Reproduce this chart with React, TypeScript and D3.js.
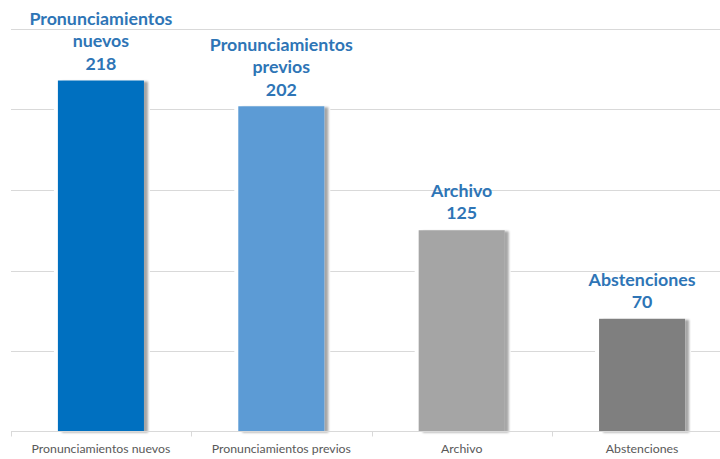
import React from "react";
import * as d3 from "d3";

const categories = ["Pronunciamientos nuevos", "Pronunciamientos previos", "Archivo", "Abstenciones"];
const values = [218, 202, 125, 70];
const labelLines = [["Pronunciamientos", "nuevos"], ["Pronunciamientos", "previos"], ["Archivo"], ["Abstenciones"]];
const colors = ["#0070C0", "#5B9BD5", "#A5A5A5", "#7F7F7F"];
const gridTicks = [50, 100, 150, 200, 250];

const W = 720, H = 459;
const left = 11, right = 732, top = 29, bottom = 431.5;

export default function App() {
  const x = d3.scaleBand<string>().domain(categories).range([left, right]).paddingInner(0.523).paddingOuter(0.26);
  const y = d3.scaleLinear().domain([0, 250]).range([bottom, top]);
  const step = x.step();
  const bounds = categories.map((c) => (x(c) as number) - (step * x.paddingInner()) / 2);
  return (
    <svg width={W} height={H} style={{ position: "absolute", left: 0, top: 0 }}>
      <defs>
        <filter id="sh" x="-20%" y="-10%" width="150%" height="130%">
          <feGaussianBlur in="SourceAlpha" stdDeviation="1.2" />
          <feOffset dx="4" dy="1" result="o" />
          <feComponentTransfer><feFuncA type="linear" slope="0.35" /></feComponentTransfer>
          <feMerge><feMergeNode /><feMergeNode in="SourceGraphic" /></feMerge>
        </filter>
      </defs>
      <rect width={W} height={H} fill="#fff" />
      {gridTicks.map((t) => (
        <line key={t} x1={left} x2={W} y1={Math.round(y(t)) + 0.5} y2={Math.round(y(t)) + 0.5} stroke="#D9D9D9" strokeWidth={1} />
      ))}
      {categories.map((c, i) => {
        const bx = x(c) as number;
        const bw = x.bandwidth();
        const by = y(values[i]);
        const cx = bx + bw / 2;
        const lines = [...labelLines[i], String(values[i])];
        const lh = 22.5;
        return (
          <g key={c}>
            <rect x={bx - 4} y={by - 3} width={bw + 10} height={bottom - by + 3} fill="#fff" />
            <rect x={bx} y={by} width={bw} height={bottom - by} fill={colors[i]} filter="url(#sh)" />
            {lines.map((l, j) => (
              <text key={j} x={cx} y={by - 17 - (lines.length - 1 - j) * lh} dy="0.35em" textAnchor="middle"
                fontFamily="Lato, 'Open Sans', sans-serif" fontWeight="bold" fontSize={17.8} fill="#2E75B6">{l}</text>
            ))}
            <text x={cx} y={449} dy="0.35em" textAnchor="middle" fontFamily="Lato, 'Open Sans', sans-serif"
              fontSize={12.3} fill="#595959">{c}</text>
          </g>
        );
      })}
      <line x1={left} x2={W} y1={bottom} y2={bottom} stroke="#D9D9D9" />
      {bounds.map((b, i) => (
        <line key={i} x1={Math.round(b) + 0.5} x2={Math.round(b) + 0.5} y1={bottom} y2={bottom + 5} stroke="#D9D9D9" />
      ))}
    </svg>
  );
}
